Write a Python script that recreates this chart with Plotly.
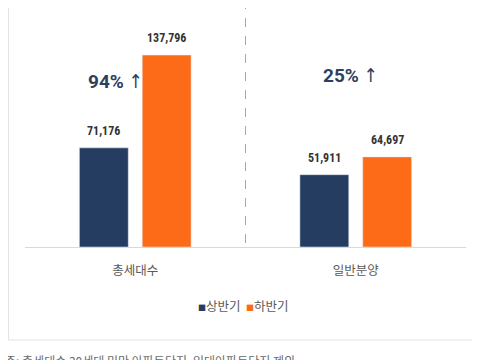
import plotly.graph_objects as go

categories = ["총세대수", "일반분양"]
series_names = ["상반기", "하반기"]
first_half = [71176, 51911]
second_half = [137796, 64697]
growth_values = ["94%", "25%"]
footnote = "주: 총세대수 30세대 미만 아파트단지, 임대아파트단지 제외"

NAVY = "#263d62"
ORANGE = "#fd6a18"
W, H = 480, 360
OFF = 8  # page body margin offset
L, R, T, B = 16.5, 21.5, 0, 121
pw, ph = W - L - R, H - T - B


def px_x(x):
    return (x - OFF - L) / pw


def px_y(y):
    return (H - B - (y - OFF)) / ph


fig = go.Figure()
fig.add_bar(x=categories, y=first_half, name=series_names[0], marker_color=NAVY, cliponaxis=False)
fig.add_bar(x=categories, y=second_half, name=series_names[1], marker_color=ORANGE, cliponaxis=False)

label_font = dict(family="Liberation Sans Narrow, Arial Narrow, Roboto Condensed, Roboto, sans-serif",
                  size=12, color="#333333")
for vals, shift in ((first_half, -31.5), (second_half, 31.5)):
    for c, v in zip(categories, vals):
        fig.add_annotation(x=c, y=v, text=f"<b>{v:,}</b>", showarrow=False,
                           xshift=shift, yshift=17, font=label_font,
                           xanchor="center", yanchor="middle")

growth_font = dict(family="Liberation Sans Narrow, Arial Narrow, Roboto, sans-serif", size=19, color="#2f3f5e")
arrow = "<span style='font-family:DejaVu Sans Condensed, DejaVu Sans;font-size:19px'>↑</span>"
fig.add_annotation(x=categories[0], y=second_half[0], text=f"<b>{growth_values[0]}</b> {arrow}",
                   showarrow=False, xshift=-20, yshift=-26, font=growth_font)
fig.add_annotation(x=categories[1], y=second_half[0], text=f"<b>{growth_values[1]}</b> {arrow}",
                   showarrow=False, xshift=-5, yshift=-20, font=growth_font)

cat_font = dict(family="Noto Sans CJK KR, sans-serif", size=12.5, color="#595959")

# divider
fig.add_shape(type="line", xref="x", yref="paper", x0=0.5, x1=0.5, y0=px_y(243), y1=1.05,
              line=dict(color="#a8a8a8", width=1, dash="dash"))

# outer frame
fig.add_shape(type="rect", xref="paper", yref="paper",
              x0=px_x(8), x1=px_x(477), y0=px_y(340), y1=1.1,
              line=dict(color="#e3e3e3", width=1), layer="below")

# legend as text
sq = "<span style='font-size:8px;color:{c}'>■</span>"
fig.add_annotation(xref="paper", yref="paper", x=px_x(243), y=px_y(317),
                   text=f"{sq.format(c=NAVY)}{series_names[0]}  {sq.format(c=ORANGE)}{series_names[1]}",
                   showarrow=False, font=dict(family="Noto Sans CJK KR, sans-serif", size=12.5, color="#595959"))

# footnote
fig.add_annotation(xref="paper", yref="paper", x=px_x(2), y=px_y(350), xanchor="left", yanchor="top",
                   text=footnote, showarrow=False,
                   font=dict(family="Noto Sans CJK KR, sans-serif", size=12, color="#6a6a6a"))

# watermark
fig.add_annotation(xref="paper", yref="paper", x=px_x(463), y=px_y(9), xanchor="right", yanchor="bottom",
                   text="Zigbang", showarrow=False,
                   font=dict(family="Lato, sans-serif", size=20, color="#e2e2e2"))

fig.update_layout(
    width=W, height=H, margin=dict(l=L, r=R, t=T, b=B),
    paper_bgcolor="white", plot_bgcolor="white",
    barmode="group", bargap=0.43, bargroupgap=0.222, showlegend=False,
    xaxis=dict(showgrid=False, showline=True, linecolor="#d9d9d9", linewidth=1,
               ticks="", tickfont=cat_font, range=[-0.5, 1.5], ticklabelstandoff=12),
    yaxis=dict(range=[0, 171600], visible=False, showgrid=False),
)

fig.write_html("out.html")
